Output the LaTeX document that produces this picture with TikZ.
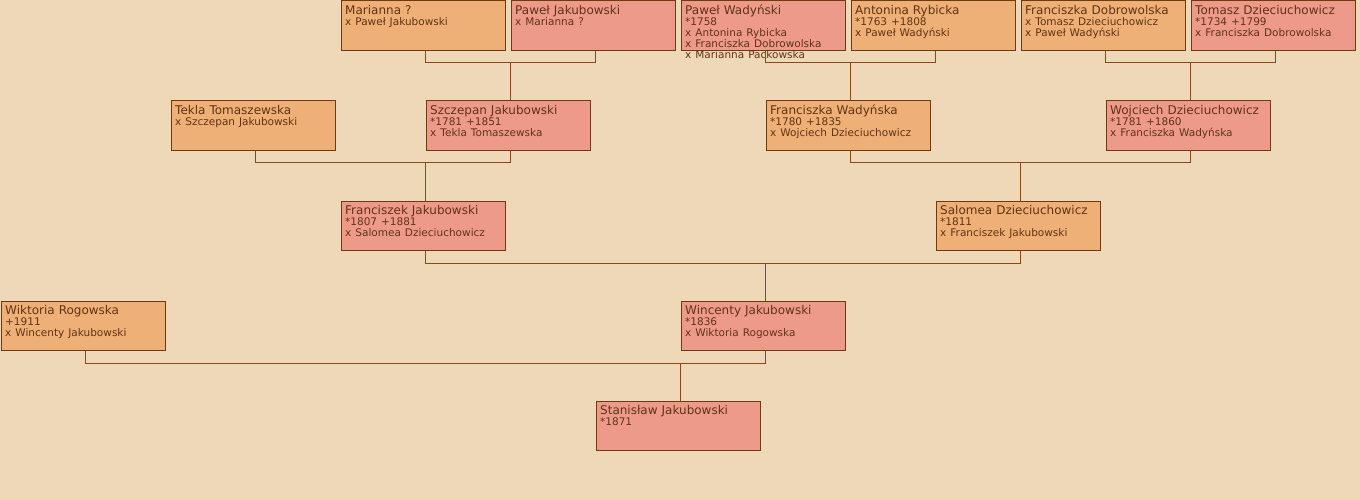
\documentclass[tikz,border=0pt]{standalone}
\usepackage{fontspec}
\setmainfont{DejaVu Sans}
\usepackage{xcolor}
\definecolor{treeBack}{RGB}{238,216,184}
\definecolor{womanFill}{RGB}{238,176,118}
\definecolor{manFill}{RGB}{238,154,138}
\definecolor{boxLine}{RGB}{110,58,18}
\definecolor{linkLine}{RGB}{140,72,24}
\definecolor{nameText}{RGB}{96,52,20}
\newcommand{\boxWidth}{164.5}
\newcommand{\boxHeight}{49.5}
\newcommand{\nameFont}{\fontsize{12}{11}\selectfont}
\newcommand{\detailFont}{\fontsize{10.5}{11}\selectfont}
\newcommand{\personBox}[6]{%
  \node[personbox, fill=#4] (#1) at (#2,#3) {};
  \node[persontext] (#1-t) at ([shift={(4.5,4.5)}]#1.north west) {#5\\\detailFont #6};
}
\newcommand{\familyLink}[3]{%
  \draw[link] ([xshift=2.5]#1.south) -- ++(0,12) -| ([xshift=2.5]#2.south);
  \draw[link] ([xshift=2.5]#3.north) -- ++(0,-38);
}

\begin{document}
\begin{tikzpicture}[x=1pt, y=-1pt,
    personbox/.style={draw=boxLine, line width=1pt, anchor=north west, inner sep=0pt,
      minimum width=\boxWidth pt, minimum height=\boxHeight pt},
    persontext/.style={anchor=north west, inner sep=0pt, text width=158pt, align=left,
      text=nameText, font=\nameFont},
    link/.style={draw=linkLine, line width=1pt}]
   \fill[treeBack] (0,0) rectangle (1360,500);
   \useasboundingbox (0,0) rectangle (1360,500);

   % great-great-grandparents
   \personBox{ma}{340.5}{0.5}{womanFill}{Marianna ?}{x Paweł Jakubowski}
   \personBox{pj}{510.5}{0.5}{manFill}{Paweł Jakubowski}{x Marianna ?}
   \personBox{pw}{680.5}{0.5}{manFill}{Paweł Wadyński}{*1758\\x Antonina Rybicka\\x Franciszka Dobrowolska\\x Marianna Packowska}
   \personBox{ar}{850.5}{0.5}{womanFill}{Antonina Rybicka}{*1763 +1808\\x Paweł Wadyński}
   \personBox{fd}{1020.5}{0.5}{womanFill}{Franciszka Dobrowolska}{x Tomasz Dzieciuchowicz\\x Paweł Wadyński}
   \personBox{td}{1190.5}{0.5}{manFill}{Tomasz Dzieciuchowicz}{*1734 +1799\\x Franciszka Dobrowolska}

   % great-grandparents
   \personBox{tt}{170.5}{100.5}{womanFill}{Tekla Tomaszewska}{x Szczepan Jakubowski}
   \personBox{sj}{425.5}{100.5}{manFill}{Szczepan Jakubowski}{*1781 +1851\\x Tekla Tomaszewska}
   \personBox{fw}{765.5}{100.5}{womanFill}{Franciszka Wadyńska}{*1780 +1835\\x Wojciech Dzieciuchowicz}
   \personBox{wd}{1105.5}{100.5}{manFill}{Wojciech Dzieciuchowicz}{*1781 +1860\\x Franciszka Wadyńska}

   % grandparents
   \personBox{fj}{340.5}{200.5}{manFill}{Franciszek Jakubowski}{*1807 +1881\\x Salomea Dzieciuchowicz}
   \personBox{sd}{935.5}{200.5}{womanFill}{Salomea Dzieciuchowicz}{*1811\\x Franciszek Jakubowski}

   % parents
   \personBox{wr}{0.5}{300.5}{womanFill}{Wiktoria Rogowska}{+1911\\x Wincenty Jakubowski}
   \personBox{wj}{680.5}{300.5}{manFill}{Wincenty Jakubowski}{*1836\\x Wiktoria Rogowska}

   \personBox{stj}{595.5}{400.5}{manFill}{Stanisław Jakubowski}{*1871}

   \familyLink{ma}{pj}{sj}
   \familyLink{pw}{ar}{fw}
   \familyLink{fd}{td}{wd}
   \familyLink{tt}{sj}{fj}
   \familyLink{fw}{wd}{sd}
   \familyLink{fj}{sd}{wj}
   \familyLink{wr}{wj}{stj}
\end{tikzpicture}
\end{document}
